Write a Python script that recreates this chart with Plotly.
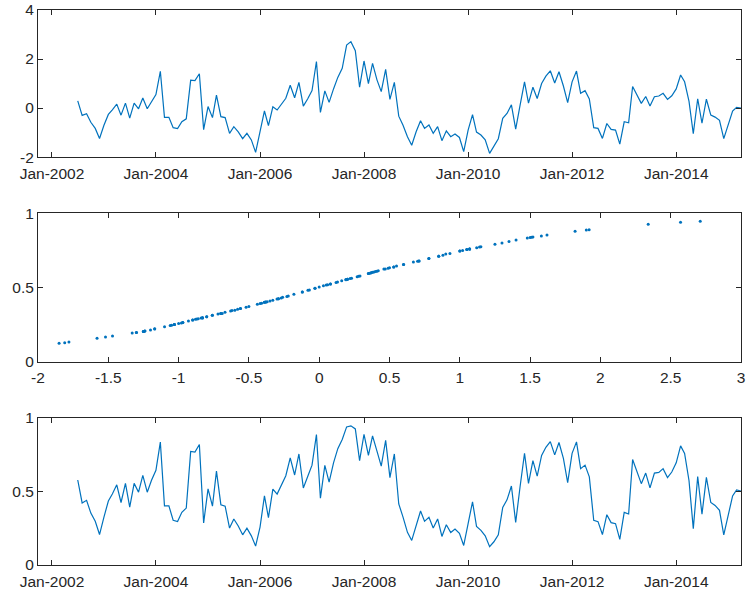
import pandas as pd
import plotly.graph_objects as go
from plotly.subplots import make_subplots

# monthly series, Jul-2002 .. Apr-2015
months = pd.date_range('2002-07-01', periods=154, freq='MS')

# raw series (top panel)
series = [
    0.29, -0.30, -0.23, -0.58, -0.83, -1.24,
    -0.70, -0.26, -0.07, 0.16, -0.29, 0.20, -0.41, 0.20, -0.03, 0.41, -0.03, 0.28,
    0.55, 1.50, -0.38, -0.38, -0.80, -0.84, -0.56, -0.44, 1.14, 1.12, 1.40, -0.88,
    0.06, -0.39, 0.53, -0.35, -0.39, -1.03, -0.76, -0.97, -1.25, -1.03, -1.30, -1.81,
    -1.00, -0.12, -0.72, 0.05, -0.08, 0.19, 0.40, 0.93, 0.42, 1.05, 0.08, 0.37,
    0.71, 1.90, -0.18, 0.70, 0.23, 0.78, 1.25, 1.62, 2.57, 2.71, 2.34, 0.85,
    1.92, 1.00, 1.82, 1.15, 0.67, 1.58, 0.35, 1.05, -0.33, -0.70, -1.17, -1.52,
    -0.97, -0.52, -0.83, -0.69, -1.03, -0.76, -1.33, -0.93, -1.17, -1.06, -1.20, -1.78,
    -0.90, -0.27, -0.98, -1.10, -1.30, -1.85, -1.58, -1.25, -0.42, -0.22, 0.13, -0.86,
    0.12, 1.07, 0.20, 0.85, 0.39, 1.00, 1.30, 1.52, 1.02, 1.48, 0.90, 0.22,
    1.07, 1.51, 0.60, 0.71, 0.37, -0.80, -0.83, -1.24, -0.63, -0.87, -0.90, -1.47,
    -0.56, -0.60, 0.88, 0.53, 0.19, 0.47, 0.08, 0.46, 0.49, 0.60, 0.35, 0.50,
    0.78, 1.35, 1.07, 0.27, -1.05, 0.38, -0.62, 0.36, -0.29, -0.37, -0.50, -1.25,
    -0.67, -0.12, 0.03, 0.00,
]

# transformed series (bottom panel), in [0, 1]
probs = [
    0.578, 0.422, 0.440, 0.353, 0.297, 0.207,
    0.326, 0.435, 0.483, 0.545, 0.425, 0.555, 0.394, 0.555, 0.495, 0.610, 0.495, 0.576,
    0.644, 0.836, 0.402, 0.402, 0.304, 0.295, 0.358, 0.387, 0.772, 0.768, 0.819, 0.286,
    0.518, 0.400, 0.638, 0.410, 0.400, 0.251, 0.313, 0.265, 0.205, 0.251, 0.198, 0.129,
    0.258, 0.470, 0.322, 0.516, 0.482, 0.552, 0.607, 0.729, 0.612, 0.755, 0.524, 0.600,
    0.679, 0.887, 0.454, 0.677, 0.563, 0.695, 0.791, 0.853, 0.939, 0.946, 0.925, 0.710,
    0.889, 0.745, 0.878, 0.774, 0.672, 0.847, 0.594, 0.755, 0.415, 0.326, 0.222, 0.167,
    0.265, 0.367, 0.297, 0.325, 0.251, 0.313, 0.194, 0.274, 0.221, 0.245, 0.215, 0.133,
    0.281, 0.430, 0.262, 0.236, 0.198, 0.125, 0.158, 0.205, 0.392, 0.443, 0.537, 0.290,
    0.534, 0.759, 0.555, 0.710, 0.604, 0.745, 0.800, 0.839, 0.749, 0.833, 0.725, 0.560,
    0.759, 0.837, 0.655, 0.679, 0.599, 0.304, 0.295, 0.207, 0.342, 0.288, 0.281, 0.174,
    0.358, 0.347, 0.717, 0.638, 0.553, 0.625, 0.524, 0.625, 0.630, 0.655, 0.594, 0.632,
    0.695, 0.810, 0.759, 0.573, 0.247, 0.602, 0.345, 0.596, 0.425, 0.405, 0.372, 0.205,
    0.333, 0.470, 0.511, 0.503,
]

# tick labels (MATLAB style, plain hyphen minus)
date_ticks = ['2002-01-01', '2004-01-01', '2006-01-01', '2008-01-01',
              '2010-01-01', '2012-01-01', '2014-01-01']
date_labels = ['Jan-2002', 'Jan-2004', 'Jan-2006', 'Jan-2008',
               'Jan-2010', 'Jan-2012', 'Jan-2014']
top_yticks = [-2, 0, 2, 4]
top_ylabels = ['-2', '0', '2', '4']
mid_xticks = [-2, -1.5, -1, -0.5, 0, 0.5, 1, 1.5, 2, 2.5, 3]
mid_xlabels = ['-2', '-1.5', '-1', '-0.5', '0', '0.5', '1', '1.5', '2', '2.5', '3']
prob_ticks = [0, 0.5, 1]
prob_labels = ['0', '0.5', '1']

blue = '#0072BD'
axcol = '#262626'
font = dict(family='Liberation Sans, Arial, sans-serif', size=15.5, color=axcol)

fig = make_subplots(rows=3, cols=1, vertical_spacing=0.1)

fig.add_trace(go.Scatter(x=months, y=series, mode='lines',
                         line=dict(color=blue, width=1.2)), row=1, col=1)
fig.add_trace(go.Scatter(x=series, y=probs, mode='markers',
                         marker=dict(color=blue, size=3)), row=2, col=1)
fig.add_trace(go.Scatter(x=months, y=probs, mode='lines',
                         line=dict(color=blue, width=1.2)), row=3, col=1)

axis_style = dict(showline=True, linecolor=axcol, linewidth=1, mirror='ticks',
                  ticks='inside', ticklen=5, tickcolor=axcol, showgrid=False,
                  zeroline=False, tickfont=font, automargin=False)
fig.update_xaxes(**axis_style, ticklabelstandoff=2)
fig.update_yaxes(**axis_style)

date_range = ['2001-09-25', '2015-04-01']
fig.update_xaxes(range=date_range, tickvals=date_ticks, ticktext=date_labels, row=1, col=1)
fig.update_xaxes(range=date_range, tickvals=date_ticks, ticktext=date_labels, row=3, col=1)
fig.update_yaxes(range=[-2, 4], tickvals=top_yticks, ticktext=top_ylabels, row=1, col=1)

fig.update_xaxes(range=[-2, 3], tickvals=mid_xticks, ticktext=mid_xlabels, row=2, col=1)
fig.update_yaxes(range=[0, 1], tickvals=prob_ticks, ticktext=prob_labels, row=2, col=1)
fig.update_yaxes(range=[0, 1], tickvals=prob_ticks, ticktext=prob_labels, row=3, col=1)

# panel placement
fig.update_layout(
    yaxis=dict(domain=[0.735, 1.0]),
    yaxis2=dict(domain=[0.366, 0.634]),
    yaxis3=dict(domain=[0.0, 0.265]),
)

fig.update_layout(width=748, height=595, showlegend=False,
                  margin=dict(l=38, r=7, t=10, b=30),
                  plot_bgcolor='white', paper_bgcolor='white', font=font)

# drop the browser's default 8px body margin so the figure sits at the window corner
fig.write_html('out.html', config={'displayModeBar': False},
               post_script="document.body.style.margin='0';")
